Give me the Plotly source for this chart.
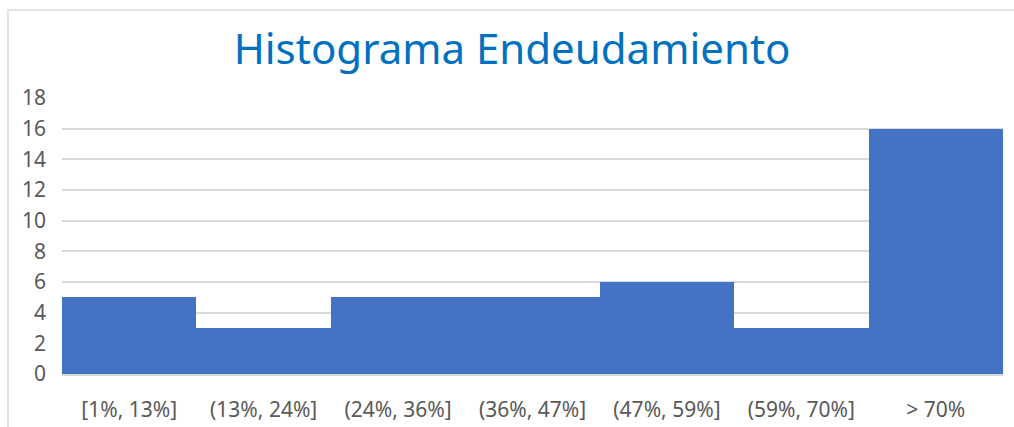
import plotly.graph_objects as go

categories = ["[1%, 13%]", "(13%, 24%]", "(24%, 36%]", "(36%, 47%]", "(47%, 59%]", "(59%, 70%]", "> 70%"]
counts = [5, 3, 5, 5, 6, 3, 16]
y_ticks = [0, 2, 4, 6, 8, 10, 12, 14, 16, 18]

W, H = 1014, 427
L, R, T, B = 62, 11, 98, 53
pw = W - L - R
ph = H - T - B

fig = go.Figure(go.Bar(
    x=categories, y=counts, marker=dict(color="#4472C4", line=dict(width=0)),
    hoverinfo="x+y"))

fig.update_layout(
    width=W, height=H,
    margin=dict(l=L, r=R, t=T, b=B, autoexpand=False),
    paper_bgcolor="white", plot_bgcolor="white",
    bargap=0,
    showlegend=False,
    font=dict(family="Noto Sans, Open Sans, sans-serif", color="#595959"),
    title=dict(text="Histograma Endeudamiento", x=0.505, xanchor="center",
               y=1 - 49 / H, yanchor="middle",
               font=dict(size=42, color="#0070C0", family="Noto Sans, Open Sans, sans-serif")),
    xaxis=dict(type="category", range=[-0.5, 6.5], showgrid=False, showline=True, automargin=False,
               linecolor="#D9D9D9", linewidth=1.5, ticks="", tickfont=dict(size=21, color="#595959"),
               ticklabelstandoff=16),
    yaxis=dict(range=[0, 18], tickvals=y_ticks, showgrid=True, gridcolor="#D9D9D9", gridwidth=1.5,
               zeroline=False, showline=False, ticks="", automargin=False,
               tickfont=dict(size=21, color="#595959"), ticklabelstandoff=15),
    shapes=[dict(type="rect", xref="paper", yref="paper",
                 x0=(8 - L) / pw, x1=(W + 5 - L) / pw,
                 y0=-(H + 5 - T - ph) / ph, y1=1 + (T - 10) / ph,
                 line=dict(color="#D9D9D9", width=1.5), layer="below")],
)

fig.write_html("out.html", config={"displayModeBar": False},
               post_script="document.body.style.margin='0';document.body.style.overflow='hidden';")
